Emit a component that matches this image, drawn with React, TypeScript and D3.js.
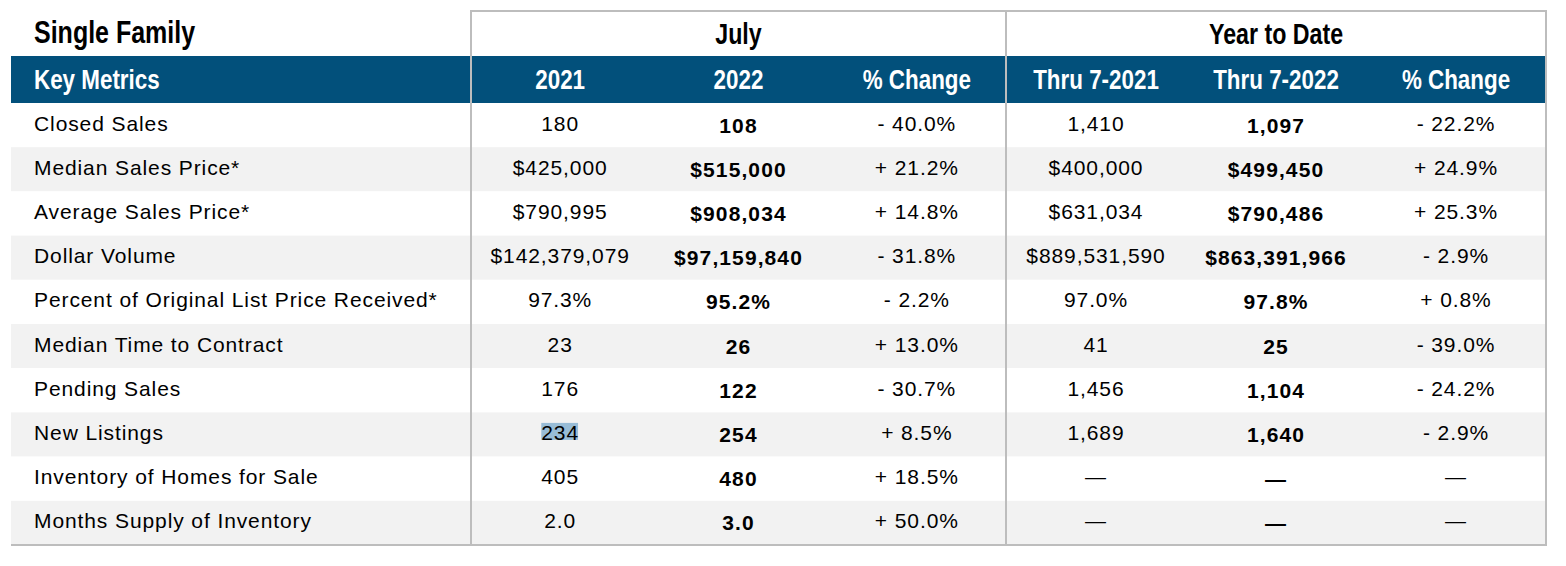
import React, { useEffect, useRef } from "react";
import * as d3 from "d3";

const title = "Single Family";
const groupTitles = ["July", "Year to Date"];
const headerLabels = ["Key Metrics", "2021", "2022", "% Change", "Thru 7-2021", "Thru 7-2022", "% Change"];
const metrics = [
  "Closed Sales",
  "Median Sales Price*",
  "Average Sales Price*",
  "Dollar Volume",
  "Percent of Original List Price Received*",
  "Median Time to Contract",
  "Pending Sales",
  "New Listings",
  "Inventory of Homes for Sale",
  "Months Supply of Inventory",
];
const july2021 = ["180", "$425,000", "$790,995", "$142,379,079", "97.3%", "23", "176", "234", "405", "2.0"];
const july2022 = ["108", "$515,000", "$908,034", "$97,159,840", "95.2%", "26", "122", "254", "480", "3.0"];
const julyChange = ["- 40.0%", "+ 21.2%", "+ 14.8%", "- 31.8%", "- 2.2%", "+ 13.0%", "- 30.7%", "+ 8.5%", "+ 18.5%", "+ 50.0%"];
const ytd2021 = ["1,410", "$400,000", "$631,034", "$889,531,590", "97.0%", "41", "1,456", "1,689", "—", "—"];
const ytd2022 = ["1,097", "$499,450", "$790,486", "$863,391,966", "97.8%", "25", "1,104", "1,640", "—", "—"];
const ytdChange = ["- 22.2%", "+ 24.9%", "+ 25.3%", "- 2.9%", "+ 0.8%", "- 39.0%", "- 24.2%", "- 2.9%", "—", "—"];

const W = 1566;
const H = 566;
const BLUE = "#02507b";
const GRAY_ROW = "#f2f2f2";
const BORDER = "#bdbdbd";
const REG = "'Liberation Sans', Arial, Helvetica, sans-serif";
const CONDENSE = 0.8;

export default function App() {
  const ref = useRef<SVGSVGElement | null>(null);

  useEffect(() => {
    const svg = d3.select(ref.current);
    svg.selectAll("*").remove();

    const left = 11;
    const secA = 471;
    const secB = 1006;
    const right = 1546;
    const headTop = 56;
    const bodyTop = 103;
    const bodyBottom = 545;

    const y = d3.scaleBand<string>().domain(metrics).range([bodyTop, bodyBottom]);
    const julyX = d3.scaleBand<string>().domain(["a", "b", "c"]).range([secA, secB]);
    const ytdX = d3.scaleBand<string>().domain(["a", "b", "c"]).range([secB, right]);
    const colCenters = [
      julyX("a")! + julyX.bandwidth() / 2,
      julyX("b")! + julyX.bandwidth() / 2,
      julyX("c")! + julyX.bandwidth() / 2,
      ytdX("a")! + ytdX.bandwidth() / 2,
      ytdX("b")! + ytdX.bandwidth() / 2,
      ytdX("c")! + ytdX.bandwidth() / 2,
    ];
    const columns = [july2021, july2022, julyChange, ytd2021, ytd2022, ytdChange];
    const boldCol = [false, true, false, false, true, false];

    // row backgrounds
    svg
      .append("g")
      .selectAll("rect")
      .data(metrics)
      .join("rect")
      .attr("x", left)
      .attr("y", (d) => y(d)!)
      .attr("width", right - left)
      .attr("height", y.bandwidth())
      .attr("fill", (_d, i) => (i % 2 === 1 ? GRAY_ROW : "#ffffff"));

    // header band
    svg
      .append("rect")
      .attr("x", left)
      .attr("y", headTop)
      .attr("width", right - left - 1)
      .attr("height", bodyTop - headTop)
      .attr("fill", BLUE);

    // title
    svg
      .append("text")
      .attr("transform", `translate(34,43) scale(0.82,1)`)
      .attr("font-family", REG)
      .attr("font-weight", "bold")
      .attr("font-size", 30.5)
      .attr("fill", "#000")
      .text(title);

    // group titles
    const groupCenters = [(secA + secB) / 2, (secB + right) / 2];
    svg
      .append("g")
      .selectAll("text")
      .data(groupTitles)
      .join("text")
      .attr("transform", (_d, i) => `translate(${groupCenters[i]},44) scale(${CONDENSE},1)`)
      .attr("text-anchor", "middle")
      .attr("font-family", REG)
      .attr("font-weight", "bold")
      .attr("font-size", 29)
      .attr("fill", "#000")
      .text((d) => d);

    // header labels
    const headerX = [34, ...colCenters];
    svg
      .append("g")
      .selectAll("text")
      .data(headerLabels)
      .join("text")
      .attr("transform", (_d, i) => `translate(${headerX[i]},89) scale(${CONDENSE},1)`)
      .attr("text-anchor", (_d, i) => (i === 0 ? "start" : "middle"))
      .attr("font-family", REG)
      .attr("font-weight", "bold")
      .attr("font-size", 28)
      .attr("fill", "#fff")
      .text((d) => d);

    // metric labels
    svg
      .append("g")
      .selectAll("text")
      .data(metrics)
      .join("text")
      .attr("x", 34)
      .attr("y", (d) => y(d)! + 27.5)
      .attr("font-family", REG)
      .attr("font-size", 21)
      .attr("letter-spacing", 0.9)
      .attr("fill", "#000")
      .text((d) => d);

    // highlight on "234" (New Listings, July 2021)
    const hlRow = metrics.indexOf("New Listings");
    const hlG = svg.append("g");

    // values
    columns.forEach((col, ci) => {
      const g = svg.append("g");
      g.selectAll("text")
        .data(col)
        .join("text")
        .attr("x", colCenters[ci])
        .attr("y", (_d, ri) => y(metrics[ri])! + (boldCol[ci] ? 29.5 : 27.5))
        .attr("text-anchor", "middle")
        .attr("font-family", REG)
        .attr("font-weight", boldCol[ci] ? "bold" : "normal")
        .attr("font-size", 21)
        .attr("letter-spacing", boldCol[ci] ? 1.1 : 0.9)
        .attr("fill", "#000")
        .text((d) => d)
        .each(function (_d, ri) {
          if (ci === 0 && ri === hlRow) {
            const node = this as SVGTextElement;
            const bb = node.getBBox();
            hlG
              .append("rect")
              .attr("x", bb.x)
              .attr("y", y(metrics[ri])! + 10.5)
              .attr("width", bb.width - 1)
              .attr("height", 17)
              .attr("fill", "#98bcd6");
          }
        });
    });

    // borders
    const lines = svg.append("g").attr("stroke", BORDER).attr("stroke-width", 2).attr("fill", "none");
    lines.append("line").attr("x1", secA).attr("x2", right).attr("y1", 11).attr("y2", 11);
    [secA, secB, right].forEach((x) => {
      lines.append("line").attr("x1", x).attr("x2", x).attr("y1", 10).attr("y2", bodyBottom + 1);
    });
    lines.append("line").attr("x1", left).attr("x2", right + 1).attr("y1", bodyBottom).attr("y2", bodyBottom);
  }, []);

  return (
    <div style={{ position: "absolute", left: 0, top: 0, width: W, height: H, background: "#fff" }}>
      <svg ref={ref} width={W} height={H} style={{ display: "block" }} />
    </div>
  );
}
